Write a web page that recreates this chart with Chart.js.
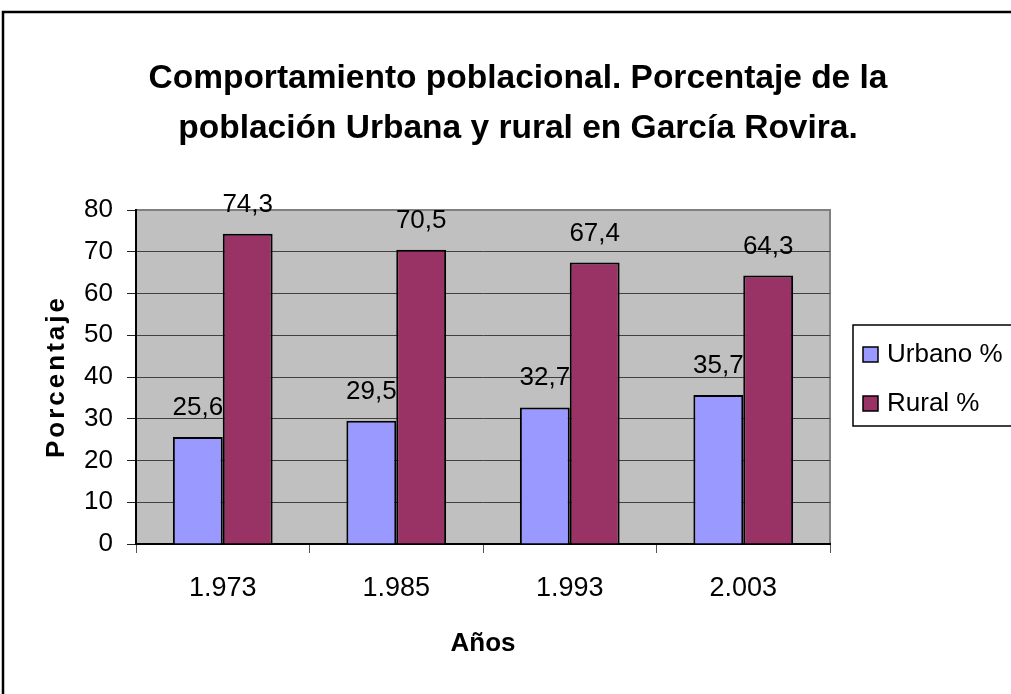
<!DOCTYPE html>
<html lang="es">
<head>
    <meta charset="UTF-8">
    <title>Comportamiento poblacional - García Rovira</title>
    <script src="https://cdn.jsdelivr.net/npm/chart.js@4.4.0/dist/chart.umd.min.js"></script>
    <style>
        body {
            margin: 0;
            background-color: #fff;
        }
        #poblacionChart {
            display: block;
        }
    </style>
</head>
<body>
    <canvas id="poblacionChart" width="1011" height="694"></canvas>

    <script>
        // Datos del gráfico
        const anios = ['1.973', '1.985', '1.993', '2.003'];
        const urbano = [25.6, 29.5, 32.7, 35.7];
        const rural = [74.3, 70.5, 67.4, 64.3];
        const yTicks = [0, 10, 20, 30, 40, 50, 60, 70, 80];
        const titulo = ['Comportamiento poblacional. Porcentaje de la',
                        'población Urbana y rural en García Rovira.'];

        const FONT = '"Liberation Sans", Arial, Helvetica, sans-serif';

        // Fondo gris del área de trazado + marco exterior
        const plotFrame = {
            id: 'plotFrame',
            beforeDraw(chart) {
                const { ctx, chartArea: a } = chart;
                ctx.save();
                ctx.fillStyle = '#C0C0C0';
                ctx.fillRect(a.left, a.top, a.right - a.left, a.bottom - a.top);
                ctx.strokeStyle = '#808080';
                ctx.lineWidth = 2;
                ctx.strokeRect(a.left, a.top, a.right - a.left, a.bottom - a.top);
                ctx.restore();
            },
            afterDraw(chart) {
                const ctx = chart.ctx;
                ctx.save();
                ctx.strokeStyle = '#000';
                ctx.lineWidth = 2.5;
                ctx.strokeRect(3, 12, 1100, 800);
                ctx.restore();
            }
        };

        // Etiquetas de valor encima de cada barra
        const valueLabels = {
            id: 'valueLabels',
            afterDatasetsDraw(chart) {
                const ctx = chart.ctx;
                ctx.save();
                ctx.font = '26px ' + FONT;
                ctx.fillStyle = '#000';
                ctx.textAlign = 'center';
                ctx.textBaseline = 'alphabetic';
                chart.data.datasets.forEach((ds, i) => {
                    chart.getDatasetMeta(i).data.forEach((bar, j) => {
                        const txt = ds.data[j].toFixed(1).replace('.', ',');
                        ctx.fillText(txt, bar.x, bar.y - 22);
                    });
                });
                ctx.restore();
            }
        };

        // Título, títulos de ejes y leyenda
        const extras = {
            id: 'extras',
            afterDraw(chart) {
                const ctx = chart.ctx;
                const a = chart.chartArea;

                ctx.save();
                ctx.fillStyle = '#000';
                ctx.textAlign = 'center';
                ctx.textBaseline = 'middle';
                ctx.font = 'bold 33.5px ' + FONT;
                titulo.forEach((line, i) => ctx.fillText(line, 518, 79 + i * 50));

                ctx.font = 'bold 26px ' + FONT;
                ctx.fillText('Años', (a.left + a.right) / 2, 644);

                ctx.translate(57, 378);
                ctx.rotate(-Math.PI / 2);
                ctx.letterSpacing = '3px';
                ctx.fillText('Porcentaje', 1.5, 0);
                ctx.restore();

                // leyenda
                ctx.save();
                ctx.fillStyle = '#fff';
                ctx.fillRect(853, 325, 200, 101);
                ctx.strokeStyle = '#000';
                ctx.lineWidth = 1.5;
                ctx.strokeRect(853, 325, 200, 101);
                ctx.font = '26px ' + FONT;
                ctx.textBaseline = 'alphabetic';
                ctx.textAlign = 'left';
                chart.data.datasets.forEach((ds, i) => {
                    const y = 347 + i * 49;
                    ctx.fillStyle = ds.backgroundColor;
                    ctx.fillRect(863, y, 15, 15);
                    ctx.strokeStyle = '#000';
                    ctx.lineWidth = 1.5;
                    ctx.strokeRect(863, y, 15, 15);
                    ctx.fillStyle = '#000';
                    ctx.fillText(ds.label, 887, y + 15);
                });
                ctx.restore();
            }
        };

        const ctx = document.getElementById('poblacionChart').getContext('2d');
        new Chart(ctx, {
            type: 'bar',
            data: {
                labels: anios,
                datasets: [{
                    label: 'Urbano %',
                    data: urbano,
                    backgroundColor: '#9999FF',
                    borderColor: '#000',
                    borderWidth: 2,
                    categoryPercentage: 0.575,
                    barPercentage: 1.0
                }, {
                    label: 'Rural %',
                    data: rural,
                    backgroundColor: '#993366',
                    borderColor: '#000',
                    borderWidth: 2,
                    categoryPercentage: 0.575,
                    barPercentage: 1.0
                }]
            },
            options: {
                responsive: false,
                animation: false,
                events: [],
                layout: {
                    padding: { left: 0, right: 181, top: 210, bottom: 0 }
                },
                plugins: {
                    legend: { display: false },
                    tooltip: { enabled: false },
                    title: { display: false }
                },
                scales: {
                    x: {
                        grid: {
                            drawOnChartArea: false,
                            tickLength: 9,
                            tickColor: '#555'
                        },
                        border: { color: '#000', width: 2 },
                        ticks: {
                            color: '#000',
                            padding: 19,
                            font: { family: FONT, size: 27 }
                        },
                        afterFit(scale) { scale.height = 150; }
                    },
                    y: {
                        min: 0,
                        max: 80,
                        afterBuildTicks(scale) {
                            scale.ticks = yTicks.map(v => ({ value: v }));
                        },
                        grid: {
                            color: ctx => ctx.tick && ctx.tick.value === 80 ? '#808080' : '#404040',
                            tickLength: 9,
                            tickColor: '#222'
                        },
                        border: { color: '#000', width: 2 },
                        ticks: {
                            color: '#000',
                            padding: 14,
                            font: { family: FONT, size: 26 }
                        },
                        afterFit(scale) { scale.width = 136; }
                    }
                }
            },
            plugins: [plotFrame, valueLabels, extras]
        });
    </script>
</body>
</html>
